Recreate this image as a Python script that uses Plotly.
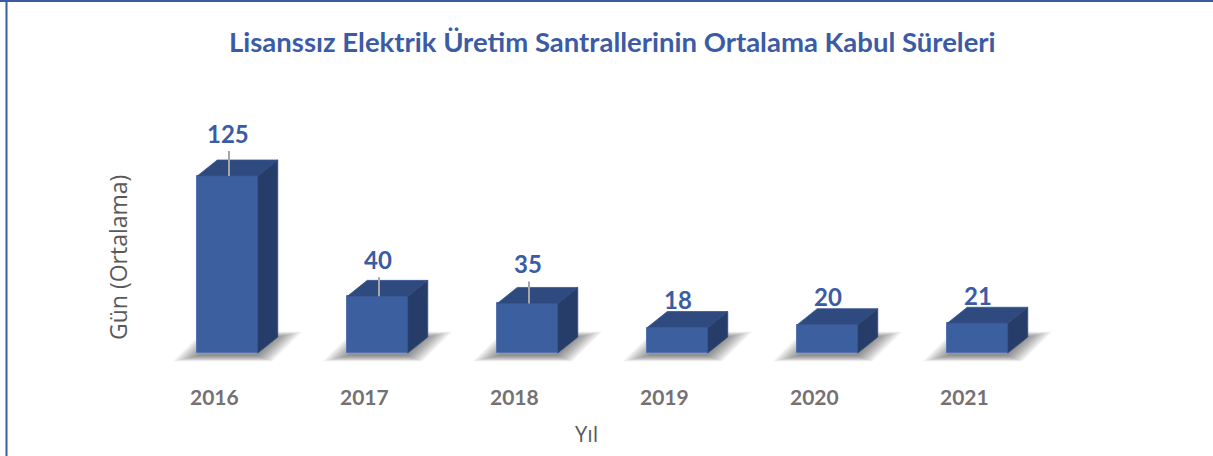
import plotly.graph_objects as go

years = ["2016", "2017", "2018", "2019", "2020", "2021"]
values = [125, 40, 35, 18, 20, 21]
title_text = "Lisanssız Elektrik Üretim Santrallerinin Ortalama Kabul Süreleri"
y_title = "Gün (Ortalama)"
x_title = "Yıl"

W, H = 1213, 456
PX_X = 150.0          # pixels per category
PX_Y = 1.416          # pixels per unit
X0_PIX = 227.5        # pixel x of first bar centre
BASE_PIX = 353.0      # pixel y of baseline (from top)

xr = [-X0_PIX / PX_X, (W - X0_PIX) / PX_X]
yr = [-(H - BASE_PIX) / PX_Y, BASE_PIX / PX_Y]

bw = 60.5 / PX_X       # bar front width in data units
dx = 20.0 / PX_X       # depth offset x
dy = 16.0 / PX_Y       # depth offset y

FRONT = "#3C5FA0"
TOP = "#2E4A7F"
SIDE = "#263C69"

fig = go.Figure()

xs = list(range(len(years)))

# soft floor shadows (below traces)
for i in xs:
    xl, xrr = i - bw / 2, i + bw / 2
    for s in range(24, -1, -3):
        ex = s / PX_X
        ey = s * 0.22 / PX_Y
        path = (f"M {xl - ex},{-ey - 3 / PX_Y} L {xrr + ex * 0.6},{-ey - 3 / PX_Y} "
                f"L {xrr + dx + ex},{dy + ey} L {xl + dx - ex * 0.6},{dy + ey} Z")
        fig.add_shape(type="path", xref="x", yref="y", path=path, layer="below",
                      fillcolor="rgba(30,30,30,0.065)", line=dict(width=0))

# front faces
fig.add_trace(go.Bar(
    x=xs, y=values, width=bw, marker=dict(color=FRONT, line=dict(color="#5573AE", width=1)),
    hoverinfo="skip", showlegend=False))

# top and side faces
for i, v in zip(xs, values):
    xl, xrr = i - bw / 2, i + bw / 2
    fig.add_trace(go.Scatter(
        x=[xl, xrr, xrr + dx, xl + dx, xl],
        y=[v, v, v + dy, v + dy, v],
        fill="toself", mode="lines", line=dict(width=0.8, color="#3A5790"),
        fillcolor=TOP, hoverinfo="skip", showlegend=False))
    fig.add_trace(go.Scatter(
        x=[xrr, xrr + dx, xrr + dx, xrr, xrr],
        y=[0, dy, v + dy, v, 0],
        fill="toself", mode="lines", line=dict(width=0.8, color="#33497A"),
        fillcolor=SIDE, hoverinfo="skip", showlegend=False))

# value labels (pixel offsets above front top) and leader lines
label_off = [43, 37, 40, 28, 28, 28]
for i, v, off in zip(xs, values, label_off):
    if off > 30:
        fig.add_trace(go.Scatter(
            x=[i + 1.5 / PX_X, i + 1.5 / PX_X], y=[v, v + (off - 18) / PX_Y],
            mode="lines", line=dict(color="#A6A6A6", width=2),
            hoverinfo="skip", showlegend=False))
    fig.add_annotation(x=i, y=v + off / PX_Y, text=f"<b>{v}</b>", showarrow=False,
                       font=dict(family="Lato", size=24, color="#3B5BA5"),
                       xanchor="center", yanchor="middle")

# category labels
for i, yl in zip(xs, years):
    fig.add_annotation(x=i - 13 / PX_X, y=-43 / PX_Y, text=f"<b>{yl}</b>", showarrow=False,
                       font=dict(family="Lato", size=21, color="#767171"),
                       xanchor="center", yanchor="middle")

fig.add_annotation(xref="paper", yref="paper", x=118 / W, y=1 - 258 / H, text=y_title,
                   textangle=-90, showarrow=False,
                   font=dict(family="Open Sans", size=23, color="#595959"),
                   xanchor="center", yanchor="middle")
fig.add_annotation(xref="paper", yref="paper", x=586 / W, y=1 - 433 / H, text=x_title,
                   showarrow=False, font=dict(family="Open Sans", size=22, color="#595959"),
                   xanchor="center", yanchor="middle")
fig.add_annotation(xref="paper", yref="paper", x=612 / W, y=1 - 42 / H,
                   text=f"<b>{title_text}</b>", showarrow=False,
                   font=dict(family="Lato", size=27.5, color="#3B5BA5"),
                   xanchor="center", yanchor="middle")

# border lines
fig.add_shape(type="line", xref="paper", yref="paper", x0=0, x1=1, y0=1 - 1 / H, y1=1 - 1 / H,
              line=dict(color="#3B5BA5", width=2))
fig.add_shape(type="line", xref="paper", yref="paper", x0=6.5 / W, x1=6.5 / W, y0=0, y1=1,
              line=dict(color="#3B5BA5", width=2))

fig.update_layout(
    width=W, height=H, margin=dict(l=0, r=0, t=0, b=0),
    paper_bgcolor="white", plot_bgcolor="white",
    xaxis=dict(range=xr, visible=False, fixedrange=True),
    yaxis=dict(range=yr, visible=False, fixedrange=True),
    bargap=0, showlegend=False,
)

fig.write_html("out.html", config={"displayModeBar": False},
               post_script="document.body.style.margin='0';document.body.style.overflow='hidden';")
